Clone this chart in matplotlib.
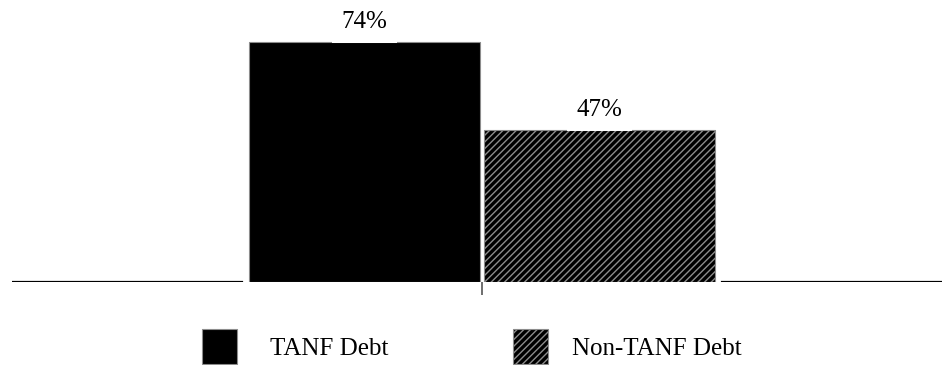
import matplotlib
matplotlib.use("Agg")
import matplotlib.pyplot as plt
from matplotlib.patches import Rectangle

plt.rcParams['font.family'] = ['Liberation Serif', 'DejaVu Serif']
plt.rcParams['hatch.linewidth'] = 1.0

categories = ["TANF Debt", "Non-TANF Debt"]
values = [74, 47]
value_labels = ["74%", "47%"]
hatches = [None, "/////"]

W, H, DPI = 942, 365, 100
fig = plt.figure(figsize=(W / DPI, H / DPI), dpi=DPI)

def fx(px):
    return px / W

def fy(py):
    return 1 - py / H

ax_bottom_px = 282
ax = fig.add_axes([fx(12), fy(ax_bottom_px), 1 - fx(12), ax_bottom_px / H])
scale = (ax_bottom_px - 42) / values[0]  # pixels per percent
ax.set_ylim(0, ax_bottom_px / scale)
ax.set_xlim(-(364.5 - 12) / 235, (942 - 364.5) / 235)

x = list(range(len(categories)))
width = 0.98
edge_grey = "#8c8c8c"

# baseline
ax.axhline(0, color="black", linewidth=1.6, zorder=1)

# white margin around bars (interrupts the baseline)
ax.bar(x, values, width=width, color="white", edgecolor="white",
       linewidth=8.5, zorder=1.5)

for xi, v, h in zip(x, values, hatches):
    ax.bar(xi, v, width=width, color="black", edgecolor=edge_grey,
           linewidth=0.8, hatch=h, zorder=3)

for xi, v, lab in zip(x, values, value_labels):
    ax.annotate(lab, (xi, v), xytext=(0, 14), textcoords="offset pixels",
                ha="center", va="baseline", fontsize=18, zorder=4,
                bbox=dict(boxstyle="square,pad=0.4", facecolor="white",
                          edgecolor="none"))

for s in ax.spines.values():
    s.set_visible(False)
ax.set_yticks([])
ax.set_xticks([0.5])
ax.set_xticklabels([""])
ax.tick_params(axis="x", direction="out", length=9, width=1.2,
               color="#555555")
ax.patch.set_alpha(0)

# legend
sq = 35
legend_items = [(202, 270), (513, 572)]
for (sx, tx), cat, h in zip(legend_items, categories, hatches):
    fig.add_artist(Rectangle((fx(sx), fy(329 + sq)), sq / W, sq / H,
                             transform=fig.transFigure, facecolor="black",
                             edgecolor=edge_grey, linewidth=0.8, hatch=h))
    fig.text(fx(tx), fy(355), cat, ha="left", va="baseline", fontsize=18)

fig.savefig("out.png", dpi=DPI)
